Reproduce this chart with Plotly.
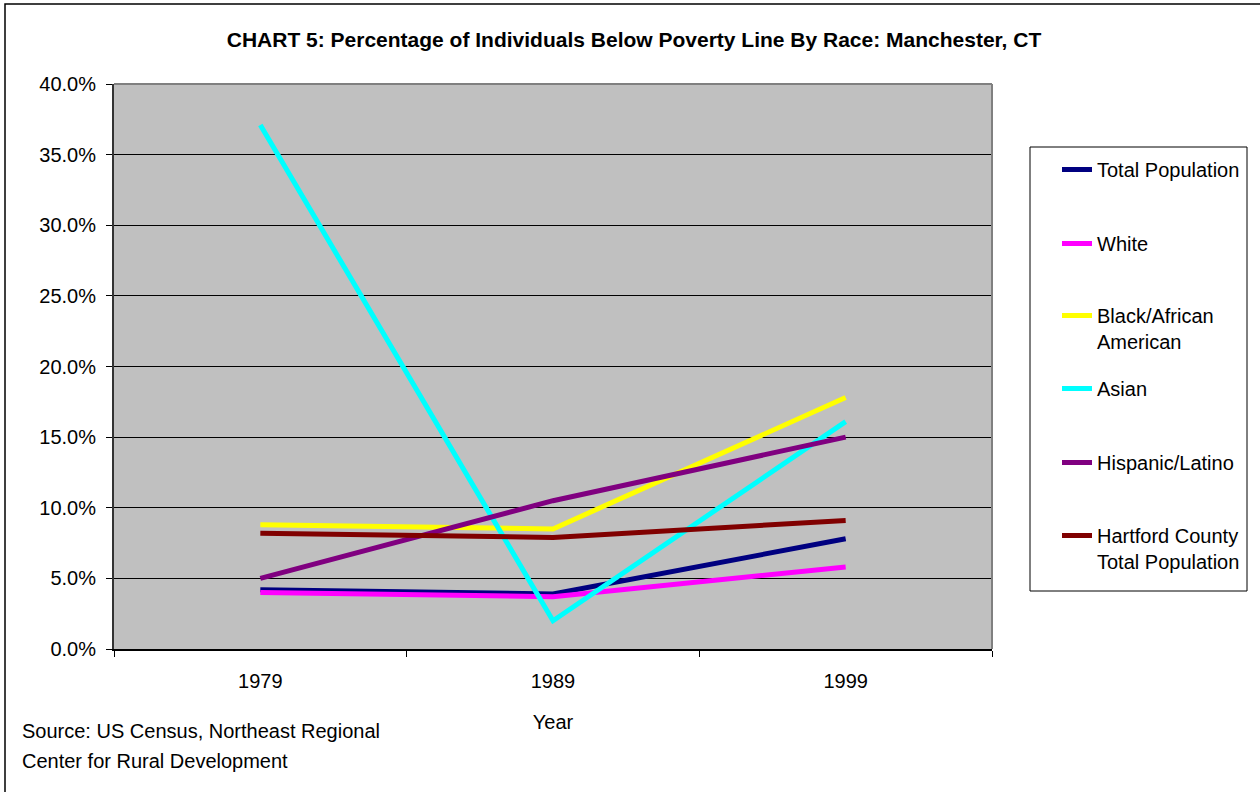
import plotly.graph_objects as go

# Census years on the category axis
years = ["1979", "1989", "1999"]

# Share of individuals below the poverty line (fraction)
total_population = [0.042, 0.039, 0.078]
white = [0.040, 0.037, 0.058]
black_african_american = [0.088, 0.085, 0.178]
asian = [0.371, 0.020, 0.161]
hispanic_latino = [0.050, 0.105, 0.150]
hartford_county_total = [0.082, 0.079, 0.091]

series_names = [
    "Total Population",
    "White",
    "Black/African<br>American",
    "Asian",
    "Hispanic/Latino",
    "Hartford County<br>Total Population",
]
series_values = [
    total_population,
    white,
    black_african_american,
    asian,
    hispanic_latino,
    hartford_county_total,
]
series_colors = ["#000080", "#FF00FF", "#FFFF00", "#00FFFF", "#800080", "#800000"]

y_ticks = [0.0, 0.05, 0.10, 0.15, 0.20, 0.25, 0.30, 0.35, 0.40]

FONT = "Liberation Sans, Arial, sans-serif"
FS = 20

# page geometry (pixels)
W, H = 1260, 792
PL, PR, PT, PB = 114, 992, 84, 649


def px_x(x):
    return (x - PL) / (PR - PL)


def px_y(y):
    return (PB - y) / (PB - PT)


fig = go.Figure()

# first-line positions of the legend entries
legend_rows = [168, 242, 314, 387, 461, 534]
legend_keys = ["legend", "legend2", "legend3", "legend4", "legend5", "legend6"]

for name, vals, color, key in zip(series_names, series_values, series_colors, legend_keys):
    fig.add_trace(
        go.Scatter(
            x=years,
            y=vals,
            mode="lines",
            name=name,
            line=dict(color=color, width=5),
            legend=key,
            hovertemplate="%{x}: %{y:.1%}<extra></extra>",
        )
    )

legend_layout = {}
for key, row in zip(legend_keys, legend_rows):
    legend_layout[key] = dict(
        x=px_x(1057),
        y=px_y(row - 18),
        xanchor="left",
        yanchor="top",
        bgcolor="rgba(0,0,0,0)",
        borderwidth=0,
        valign="top",
        font=dict(family=FONT, size=FS, color="#000000"),
    )

fig.update_layout(
    width=W,
    height=H,
    margin=dict(l=PL, r=W - PR, t=PT, b=H - PB),
    paper_bgcolor="#FFFFFF",
    plot_bgcolor="#C0C0C0",
    font=dict(family=FONT, size=FS, color="#000000"),
    title=dict(
        text="CHART 5: Percentage of Individuals Below Poverty Line By Race: Manchester, CT",
        x=634 / W,
        xanchor="center",
        y=1 - 40 / H,
        yanchor="middle",
        font=dict(family=FONT, size=21, color="#000000", weight="bold"),
    ),
    showlegend=True,
    **legend_layout,
)

fig.update_xaxes(
    type="category",
    categoryorder="array",
    categoryarray=years,
    range=[-0.5, 2.5],
    tickson="boundaries",
    ticks="outside",
    ticklen=6,
    tickcolor="#000000",
    ticklabelstandoff=13,
    showline=True,
    linecolor="#000000",
    linewidth=2,
    showgrid=False,
    zeroline=False,
    tickfont=dict(family=FONT, size=FS, color="#000000"),
    title=dict(text="Year", standoff=24, font=dict(family=FONT, size=FS, color="#000000")),
)

fig.update_yaxes(
    range=[0, 0.4],
    tickvals=y_ticks,
    tickformat=".1%",
    ticks="outside",
    ticklen=6,
    tickcolor="#000000",
    ticklabelstandoff=6,
    showline=True,
    linecolor="#333333",
    linewidth=2,
    showgrid=True,
    gridcolor="#000000",
    gridwidth=1,
    zeroline=False,
    tickfont=dict(family=FONT, size=FS, color="#000000"),
)

shapes = [
    # top and right edges of the plot area
    dict(type="line", xref="paper", yref="paper", x0=0, y0=1, x1=1, y1=1,
         line=dict(color="#808080", width=2), layer="above"),
    dict(type="line", xref="paper", yref="paper", x0=1, y0=0, x1=1, y1=1,
         line=dict(color="#808080", width=2), layer="above"),
    # legend frame
    dict(type="rect", xref="paper", yref="paper",
         x0=px_x(1030), x1=px_x(1247), y0=px_y(591), y1=px_y(147),
         line=dict(color="#000000", width=1), fillcolor="rgba(0,0,0,0)"),
    # chart frame
    dict(type="rect", xref="paper", yref="paper",
         x0=px_x(5), x1=px_x(1266), y0=px_y(800), y1=px_y(4),
         line=dict(color="#000000", width=1.5), fillcolor="rgba(0,0,0,0)"),
]
fig.update_layout(shapes=shapes)

source_lines = ["Source: US Census, Northeast Regional", "Center for Rural Development"]
source_rows = [731, 761]
for text, row in zip(source_lines, source_rows):
    fig.add_annotation(
        text=text,
        xref="paper", yref="paper",
        x=px_x(20), y=px_y(row),
        xanchor="left", yanchor="middle",
        showarrow=False,
        font=dict(family=FONT, size=FS, color="#000000"),
    )

fig.write_html("out.html")
